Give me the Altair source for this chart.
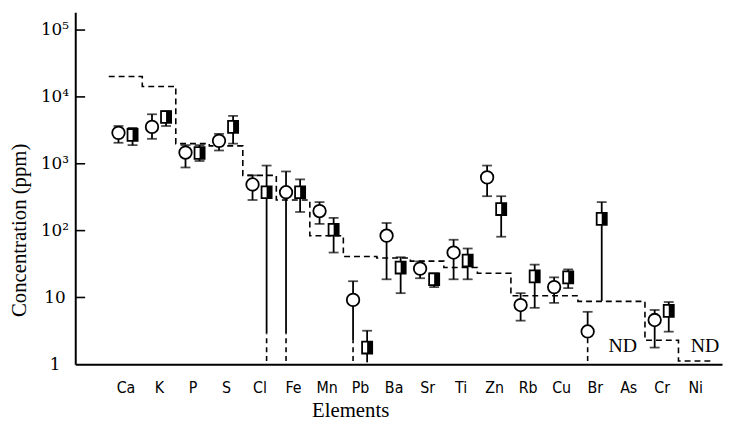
import altair as alt
import pandas as pd

elements = ["Ca", "K", "P", "S", "Cl", "Fe", "Mn", "Pb", "Ba", "Sr",
            "Ti", "Zn", "Rb", "Cu", "Br", "As", "Cr", "Ni"]

# open circles
circle_val = [2900, 3560, 1470, 2200, 490, 375, 196, 9.2, 84, 27, 47, 625, 7.7, 14.3, 3.1, None, 4.6, None]
circle_hi = [3670, 5500, 1900, 2800, 670, 767, 267, 17.5, 130, 34.6, 73, 940, 11.6, 20, 6.1, None, 6.5, None]
circle_lo = [2060, 2360, 880, 1580, 287, 2.9, 126, 2.26, 18.7, 19.4, 18.7, 327, 4.5, 8.3, 3.1, None, 1.78, None]
circle_cap_lo = [1, 1, 1, 1, 1, 0, 1, 0, 1, 1, 1, 1, 1, 1, 0, 0, 1, 0]
circle_ext_top = [None, None, None, None, None, 2.9, None, 2.26, None, None, None, None, None, None, 2.5, None, None, None]

# half-filled squares
square_val = [2700, 5000, 1450, 3560, 375, 375, 103, 1.78, 28, 18.7, 35.7, 210, 20.7, 20, 150, None, 6.3, None]
square_hi = [3440, 6100, 1900, 5200, 940, 584, 155, 3.18, 40, 23, 54, 327, 31, 26.3, 267, None, 8.55, None]
square_lo = [1900, 3670, 1100, 2000, 2.9, 190, 47, 1.07, 11.6, 14.3, 18.7, 81, 7.0, 13.8, 8.85, None, 3.08, None]
square_cap_lo = [1, 1, 1, 1, 0, 1, 1, 0, 1, 1, 1, 1, 1, 1, 0, 0, 1, 0]
square_ext_top = [None, None, None, None, 2.9, None, None, None, None, None, None, None, None, None, None, None, None, None]

# dashed step line (one level per element)
step_val = [20200, 14350, 2000, 1850, 670, 287, 84, 41, 39, 35, 28, 23, 10.6, 10.6, 8.75, 8.75, 2.29, 1.12]

nd_labels = ["ND", "ND"]
nd_pos = [14.84, 17.29]
nd_val = [1.85, 1.85]

y_ticks = [10, 100, 1000, 10000, 100000]
ext_bottom = 1.12
OFF = 0.21

# ---------- tables ----------
def series(vals, his, los, caps, ext, off):
    rows, cap_rows, ext_rows = [], [], []
    for i in range(len(elements)):
        if vals[i] is None:
            continue
        x = i + off
        rows.append({"x": x, "v": vals[i], "hi": his[i], "lo": los[i]})
        cap_rows.append({"x": x, "y": his[i]})
        if caps[i]:
            cap_rows.append({"x": x, "y": los[i]})
        if ext[i] is not None:
            ext_rows.append({"x": x, "y1": ext_bottom, "y2": ext[i]})
    return rows, cap_rows, ext_rows

c_rows, c_caps, c_ext = series(circle_val, circle_hi, circle_lo, circle_cap_lo, circle_ext_top, -OFF)
s_rows, s_caps, s_ext = series(square_val, square_hi, square_lo, square_cap_lo, square_ext_top, OFF)

df_c = pd.DataFrame(c_rows)
df_s = pd.DataFrame(s_rows)
df_err = pd.DataFrame(c_rows + s_rows)
df_caps = pd.DataFrame(c_caps + s_caps)
df_ext = pd.DataFrame(c_ext + s_ext)
df_step = pd.DataFrame({"x": [i - 0.5 for i in range(len(elements))] + [len(elements) - 0.5],
                        "v": step_val + [step_val[-1]]})
df_nd = pd.DataFrame({"x": nd_pos, "v": nd_val, "t": nd_labels})
df_ticks = pd.DataFrame({"v": y_ticks})

label_arr = "[" + ",".join("'%s'" % e for e in elements) + "]"

xscale = alt.Scale(domain=[-1.5, 17.8], nice=False, zero=False)
yscale = alt.Scale(type="log", domain=[1, 184600], nice=False)

xaxis = alt.Axis(values=list(range(len(elements))), labelExpr=label_arr + "[datum.value]",
                 ticks=False, grid=False, domainColor="black", domainWidth=2,
                 labelFont="Liberation Sans Narrow, DejaVu Sans Condensed, DejaVu Sans Mono",
                 labelFontSize=16, labelColor="black", labelPadding=16,
                 title="Elements", titleFont="Liberation Serif", titleFontSize=21,
                 titleFontWeight="normal", titleColor="black", titleX=278, titleY=53,
                 titleBaseline="alphabetic", titleAlign="center")
yaxis = alt.Axis(values=[1, 10, 100, 1000, 10000, 100000],
                 labelExpr="datum.value==1?'1':datum.value==10?'10':datum.value==100?'10²':datum.value==1000?'10³':datum.value==10000?'10⁴':'10⁵'",
                 ticks=False, grid=False, domainColor="black", domainWidth=2,
                 labelFont="DejaVu Serif", labelFontSize=17, labelColor="black",
                 labelAlign="center", labelBaseline="middle", labelPadding=21,
                 title="Concentration (ppm)", titleFont="Liberation Serif", titleFontSize=21,
                 titleFontWeight="normal", titleColor="black", titleX=-50, titleY=220,
                 titleBaseline="alphabetic", titleAlign="center", titleAngle=-90)


def X(f):
    return alt.X(f, type="quantitative", scale=xscale, axis=xaxis)


def Y(f):
    return alt.Y(f, type="quantitative", scale=yscale, axis=yaxis)


step = alt.Chart(df_step).mark_line(interpolate="step-after", color="black",
                                    strokeDash=[6, 4], strokeWidth=1.6).encode(x=X("x"), y=Y("v"))

inner_ticks = alt.Chart(df_ticks).mark_rule(color="black", strokeWidth=1.6).encode(
    y=Y("v"), x=alt.value(0), x2=alt.value(10))

err = alt.Chart(df_err).mark_rule(color="black", strokeWidth=1.8).encode(
    x=X("x"), y=Y("lo"), y2="hi")

caps = alt.Chart(df_caps).mark_tick(orient="horizontal", color="black", size=10,
                                    thickness=1.8).encode(x=X("x"), y=Y("y"))

ext = alt.Chart(df_ext).mark_rule(color="black", strokeWidth=1.6, strokeDash=[5, 4]).encode(
    x=X("x"), y=Y("y1"), y2="y2")

circles = alt.Chart(df_c).mark_point(shape="circle", size=160, filled=True, fill="white",
                                     stroke="black", strokeWidth=1.8, opacity=1).encode(
    x=X("x"), y=Y("v"))

sq_outline = alt.Chart(df_s).mark_point(shape="M-0.85,-1L0.85,-1L0.85,1L-0.85,1Z", size=144,
                                        filled=True, fill="white", stroke="black",
                                        strokeWidth=1.8, opacity=1).encode(x=X("x"), y=Y("v"))

sq_half = alt.Chart(df_s).mark_point(shape="M0,-1L0.85,-1L0.85,1L0,1Z", size=144,
                                     filled=True, fill="black", strokeWidth=0, opacity=1).encode(
    x=X("x"), y=Y("v"))

nd = alt.Chart(df_nd).mark_text(font="Liberation Serif", fontSize=20, color="black",
                                align="center", baseline="middle").encode(
    x=X("x"), y=Y("v"), text="t:N")

chart = alt.layer(step, inner_ticks, err, caps, ext, circles, sq_outline, sq_half, nd).properties(
    width=654, height=356,
    autosize=alt.AutoSizeParams(type="none"),
    padding={"left": 68, "top": 2, "right": 3, "bottom": 54},
    background="white",
).configure_view(stroke=None)

chart.save("out.html", embed_options={"renderer": "svg", "actions": False})
